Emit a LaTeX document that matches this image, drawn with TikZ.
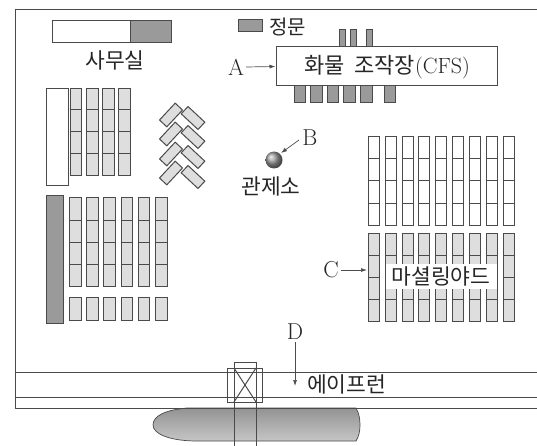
\documentclass[tikz,border=0pt]{standalone}
\usepackage{fontspec}
\newfontfamily\kr{Noto Sans CJK KR}
\usetikzlibrary{arrows.meta}
\definecolor{edgec}{HTML}{4A4A4A}
\definecolor{cellc}{HTML}{DEDEDE}
\definecolor{darkc}{HTML}{9A9A9A}
\tikzset{
  x=1pt,y=-1pt,
  box/.style={draw=edgec,line width=1pt},
  lightbox/.style={box,fill=cellc},
  whitebox/.style={box,fill=white},
  darkbox/.style={box,fill=darkc},
  rule/.style={draw=edgec,line width=1pt},
  pointer/.style={draw=black!70,line width=.7pt,-{Latex[length=6pt,width=4pt]}},
  krlabel/.style={font=\kr\fontsize{21.5}{21.5}\selectfont,text=black!85,inner sep=0pt},
  letter/.style={font=\fontsize{23}{23}\selectfont,text=black!85,inner sep=0pt},
  tilted/.style={lightbox,minimum width=23pt,minimum height=10pt,inner sep=0pt,anchor=center},
}
\begin{document}
\begin{tikzpicture}
\useasboundingbox (0,0) rectangle (537,446);
% ship
\shade[top color=gray!85,bottom color=gray!45,draw=edgec,line width=.7pt]
  (187,408) .. controls (165,410) and (153,416) .. (153,425)
  .. controls (153,434) and (170,441) .. (197,441) -- (356,441)
  .. controls (359,436) and (360,431) .. (360,425)
  .. controls (360,419) and (359,413) .. (356,408) -- cycle;
% site outline and apron
\draw[rule] (537,10) -- (15,10) -- (15,408) -- (537,408);
\draw[rule] (15,372) -- (537,372);
\draw[rule] (15,397) -- (537,397);
% crane
\draw[box] (227,368) rectangle (262,402);
\draw[box] (234,446) -- (234,362) -- (256,362) -- (256,446);
\draw[box] (234,368) -- (256,402) (256,368) -- (234,402);
% office
\draw[whitebox] (52,21) rectangle (130,43);
\draw[darkbox] (130,21) rectangle (171,43);
\node[krlabel] (office) at (115,60) {사무실};
% gate
\draw[darkbox] (238,20) rectangle (262,32);
\node[krlabel,anchor=west,font=\kr\fontsize{20}{20}\selectfont] (gate) at (269,27) {정문};
% CFS docks
\foreach \a/\b in {339/345,350/356,366/372}
  \draw[darkbox] (\a,30) rectangle (\b,48);
\foreach \a/\b in {294/305,310/322,327/338,343/355,360/372,384/395}
  \draw[darkbox] (\a,85) rectangle (\b,103);
\node[whitebox,minimum width=221pt,minimum height=39pt,inner sep=0pt] (cfs) at (386.5,66.5) {};
\node[inner sep=0pt] (cfst) at (387,67) {\fontsize{22}{22}\selectfont\color{black!85}{\kr 화물 \ 조작장}(CFS)};
\node[letter] (A) at (236,67) {A};
\draw[pointer] (A.east) ++(2,0) coordinate (As) -- (cfs.west);
% upper left stack
\draw[whitebox] (46,89) rectangle (68,186);
\foreach \a/\b in {70/81,86/98,102/114,118/130}
  \foreach \t/\u in {89/110,110/132,132/154,154/176}
    \draw[lightbox] (\a,\t) rectangle (\b,\u);
% tilted stacks
\foreach \cy in {115,134,154,173}
  \node[tilted,rotate=47] at (171,\cy) {};
\foreach \cy in {118,137,157,177}
  \node[tilted,rotate=-43] at (193,\cy) {};
% lower left stack
\draw[darkbox] (46,196) rectangle (63,323);
\foreach \a/\b in {69/81,86/98,103/115,121/132,138/149,155/167}{
  \foreach \t/\u in {198/220,220/242,242/264,264/286}
    \draw[lightbox] (\a,\t) rectangle (\b,\u);
  \draw[lightbox] (\a,297) rectangle (\b,320);
}
% control tower
\shade[ball color=gray!80] (274,160) circle (8.5);
\coordinate (tower) at (281,153);
\node[letter] (B) at (310,138) {B};
\coordinate (Bs) at (299,140);
\draw[pointer] (Bs) -- (tower);
\node[krlabel] (ctl) at (271,186) {관제소};
% right stacks
\foreach \a/\b in {368/379,385/396,402/413,418/429,435/446,452/463,469/480,486/497,503/514}{
  \foreach \t/\u in {137/159,159/181,181/203,203/225}
    \draw[whitebox] (\a,\t) rectangle (\b,\u);
  \foreach \t/\u in {233/255,255/277,277/299,299/321}
    \draw[lightbox] (\a,\t) rectangle (\b,\u);
}
\fill[white] (386,264) rectangle (497,289);
\node[krlabel] (ms) at (441,276) {마셜링야드};
\node[letter] (C) at (331,270) {C};
\coordinate (Ce) at (367,270);
\draw[pointer] (C.east) ++(2,0) -- (Ce);
\node[letter] (D) at (295,332) {D};
\coordinate (De) at (295,386);
\draw[pointer] (D.south) ++(0,2) -- (De);
\node[krlabel,anchor=west] (apron) at (307,384) {에이프런};
\end{tikzpicture}
\end{document}
